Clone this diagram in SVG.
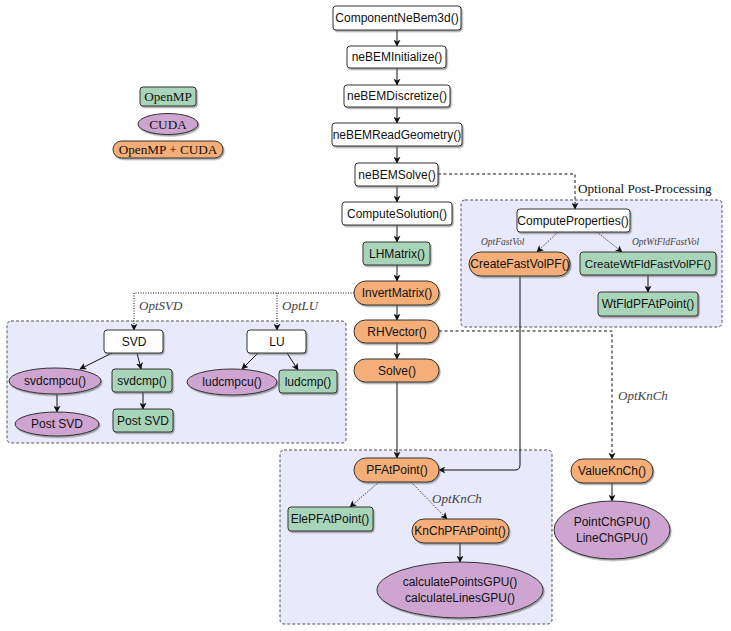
<svg xmlns="http://www.w3.org/2000/svg" width="731" height="631" viewBox="0 0 731 631">
<style>
text{font-family:"Liberation Sans","DejaVu Sans",sans-serif;font-size:12px;fill:#111;text-anchor:middle;dominant-baseline:central}
.ser{font-family:"Liberation Serif","DejaVu Serif",serif;font-size:13.2px}
.it{font-family:"Liberation Serif","DejaVu Serif",serif;font-style:italic;fill:#444;font-size:13px;text-anchor:start}
.sm{font-size:9.5px}
.w{fill:#fff;stroke:#333;stroke-width:1}
.g{fill:#a8d5b9;stroke:#333;stroke-width:1}
.o{fill:#f5ae78;stroke:#333;stroke-width:1}
.p{fill:#cea5d1;stroke:#333;stroke-width:1}
.grp{fill:#e9e9fc;stroke:#555;stroke-width:1;stroke-dasharray:3,2}
.sh{filter:url(#ds)}
.c{fill:none;stroke:#111;stroke-width:1}
.a{marker-end:url(#ah)}
.dot{stroke-dasharray:1,1.5}
.dash{stroke-dasharray:3,2.5}
</style>
<defs>
<filter id="ds" x="-20%" y="-30%" width="140%" height="170%">
<feDropShadow dx="1.2" dy="1.5" stdDeviation="0.6" flood-color="#666" flood-opacity="0.6"/>
</filter>
<marker id="ah" viewBox="0 0 10 10" refX="9" refY="5" markerWidth="7" markerHeight="7" markerUnits="userSpaceOnUse" orient="auto">
<path d="M0,0 L10,5 L0,10 L2.5,5 Z" fill="#111"/>
</marker>
</defs>

<!-- group boxes -->
<g id="grpPost"><rect class="grp" x="461" y="200" width="261" height="127" rx="4"/></g>
<g id="grpSVD"><rect class="grp" x="7" y="321" width="339" height="122" rx="4"/></g>
<g id="grpPF"><rect class="grp" x="280" y="450" width="272" height="174" rx="4"/></g>

<!-- connectors -->
<g id="connectors">
<path class="c a" d="M397,30 V46"/>
<path class="c a" d="M397,68 V85"/>
<path class="c a" d="M397,107 V123"/>
<path class="c a" d="M397,146 V163"/>
<path class="c a" d="M397,186 V202"/>
<path class="c a" d="M397,225 V242"/>
<path class="c a" d="M397,265 V281"/>
<path class="c a" d="M397,305 V320"/>
<path class="c a" d="M397,343 V359"/>
<path class="c a" d="M397,382 V458"/>
<path class="c dash a" d="M438,174 H575 V209"/>
<path class="c dot a" d="M558,232 L537,252"/>
<path class="c dot a" d="M597,232 L622,252"/>
<path class="c a" d="M648,275 V292"/>
<path class="c a" d="M520,276 V465 Q520,470 515,470 H439"/>
<path class="c dot a" d="M354,293 H134 V330"/>
<path class="c dot a" d="M277,293 V330"/>
<path class="c a" d="M112,353 L80,369"/>
<path class="c a" d="M137,353 L141,369"/>
<path class="c a" d="M258,353 L242,369"/>
<path class="c a" d="M287,353 L298,370"/>
<path class="c a" d="M57,394 V412"/>
<path class="c a" d="M143,392 V409"/>
<path class="c dash a" d="M439,331 H612 V459"/>
<path class="c a" d="M612,483 V501"/>
<path class="c dot a" d="M379,482 L350,507"/>
<path class="c dot a" d="M411,482 L447,519"/>
<path class="c a" d="M460,543 V562"/>
</g>

<!-- labels -->
<g id="labels">
<text class="ser" x="578" y="188" style="text-anchor:start">Optional Post-Processing</text>
<text class="it sm" x="481" y="242">OptFastVol</text>
<text class="it sm" x="632" y="242">OptWtFldFastVol</text>
<text class="it" x="139" y="305">OptSVD</text>
<text class="it" x="282" y="305">OptLU</text>
<text class="it" x="432" y="498">OptKnCh</text>
<text class="it" x="618" y="395">OptKnCh</text>
</g>

<!-- legend -->
<g id="legOpenMP"><rect class="g sh" x="140" y="87" width="56" height="19" rx="3"/><text class="ser" x="168" y="96.5">OpenMP</text></g>
<g id="legCUDA"><ellipse class="p sh" cx="168" cy="124" rx="30" ry="10.5"/><text class="ser" x="168" y="124">CUDA</text></g>
<g id="legBoth"><rect class="o sh" x="113" y="141" width="110" height="17" rx="8.5"/><text class="ser" x="168" y="149.5">OpenMP + CUDA</text></g>

<!-- main column -->
<g id="nComponent"><rect class="w sh" x="333" y="6" width="128" height="24" rx="3"/><text x="397" y="18">ComponentNeBem3d()</text></g>
<g id="nInit"><rect class="w sh" x="347" y="46" width="99" height="22" rx="3"/><text x="397" y="57">neBEMInitialize()</text></g>
<g id="nDisc"><rect class="w sh" x="344" y="85" width="106" height="22" rx="3"/><text x="397" y="96">neBEMDiscretize()</text></g>
<g id="nRead"><rect class="w sh" x="332" y="123" width="130" height="23" rx="3"/><text x="397" y="134.5">neBEMReadGeometry()</text></g>
<g id="nSolve"><rect class="w sh" x="355" y="163" width="83" height="23" rx="3"/><text x="397" y="174.5">neBEMSolve()</text></g>
<g id="nCompSol"><rect class="w sh" x="342" y="202" width="110" height="23" rx="3"/><text x="397" y="213.5">ComputeSolution()</text></g>
<g id="nLH"><rect class="g sh" x="363" y="242" width="67" height="23" rx="3"/><text x="397" y="253.5">LHMatrix()</text></g>
<g id="nInv"><rect class="o sh" x="354" y="281" width="85" height="24" rx="12"/><text x="397" y="293">InvertMatrix()</text></g>
<g id="nRH"><rect class="o sh" x="354" y="320" width="85" height="23" rx="11.5"/><text x="397" y="331.5">RHVector()</text></g>
<g id="nSolve2"><rect class="o sh" x="354" y="359" width="85" height="23" rx="11.5"/><text x="397" y="370.5">Solve()</text></g>

<!-- post-processing -->
<g id="nCompProp"><rect class="w sh" x="517" y="209" width="113" height="23" rx="3"/><text x="573" y="220.5">ComputeProperties()</text></g>
<g id="nCreateFV"><rect class="o sh" x="469" y="252" width="101" height="24" rx="12"/><text x="520" y="264">CreateFastVolPF()</text></g>
<g id="nCreateWt"><rect class="g sh" x="580" y="252" width="136" height="23" rx="3"/><text x="648" y="263.5" style="font-size:11.6px">CreateWtFldFastVolPF()</text></g>
<g id="nWtPF"><rect class="g sh" x="598" y="292" width="100" height="24" rx="3"/><text x="648" y="304">WtFldPFAtPoint()</text></g>

<!-- SVD / LU -->
<g id="nSVD"><rect class="w sh" x="104" y="330" width="59" height="23" rx="3"/><text x="134" y="341.5">SVD</text></g>
<g id="nLU"><rect class="w sh" x="247" y="330" width="59" height="23" rx="3"/><text x="277" y="341.5">LU</text></g>
<g id="nSvdcmpcu"><ellipse class="p sh" cx="55" cy="381" rx="46" ry="13"/><text x="55" y="381">svdcmpcu()</text></g>
<g id="nSvdcmp"><rect class="g sh" x="112" y="369" width="60" height="23" rx="3"/><text x="142" y="380.5">svdcmp()</text></g>
<g id="nLudcmpcu"><ellipse class="p sh" cx="232" cy="382" rx="45" ry="13"/><text x="232" y="382">ludcmpcu()</text></g>
<g id="nLudcmp"><rect class="g sh" x="279" y="370" width="58" height="23" rx="3"/><text x="308" y="381.5">ludcmp()</text></g>
<g id="nPostSVDc"><ellipse class="p sh" cx="57" cy="424" rx="42" ry="12"/><text x="57" y="424">Post SVD</text></g>
<g id="nPostSVDg"><rect class="g sh" x="113" y="409" width="60" height="23" rx="3"/><text x="143" y="420.5">Post SVD</text></g>

<!-- PF box -->
<g id="nPFAt"><rect class="o sh" x="354" y="458" width="85" height="24" rx="12"/><text x="397" y="470">PFAtPoint()</text></g>
<g id="nElePF"><rect class="g sh" x="288" y="507" width="85" height="24" rx="3"/><text x="330" y="519">ElePFAtPoint()</text></g>
<g id="nKnChPF"><rect class="o sh" x="412" y="519" width="97" height="24" rx="12"/><text x="460" y="531">KnChPFAtPoint()</text></g>
<g id="nCalc"><ellipse class="p sh" cx="460" cy="590" rx="83" ry="28"/><text x="460" y="582">calculatePointsGPU()</text><text x="460" y="598">calculateLinesGPU()</text></g>

<!-- KnCh -->
<g id="nValueKnCh"><rect class="o sh" x="571" y="459" width="82" height="24" rx="12"/><text x="612" y="471">ValueKnCh()</text></g>
<g id="nPointCh"><ellipse class="p sh" cx="612" cy="530" rx="58" ry="29"/><text x="612" y="522">PointChGPU()</text><text x="612" y="538">LineChGPU()</text></g>
</svg>
